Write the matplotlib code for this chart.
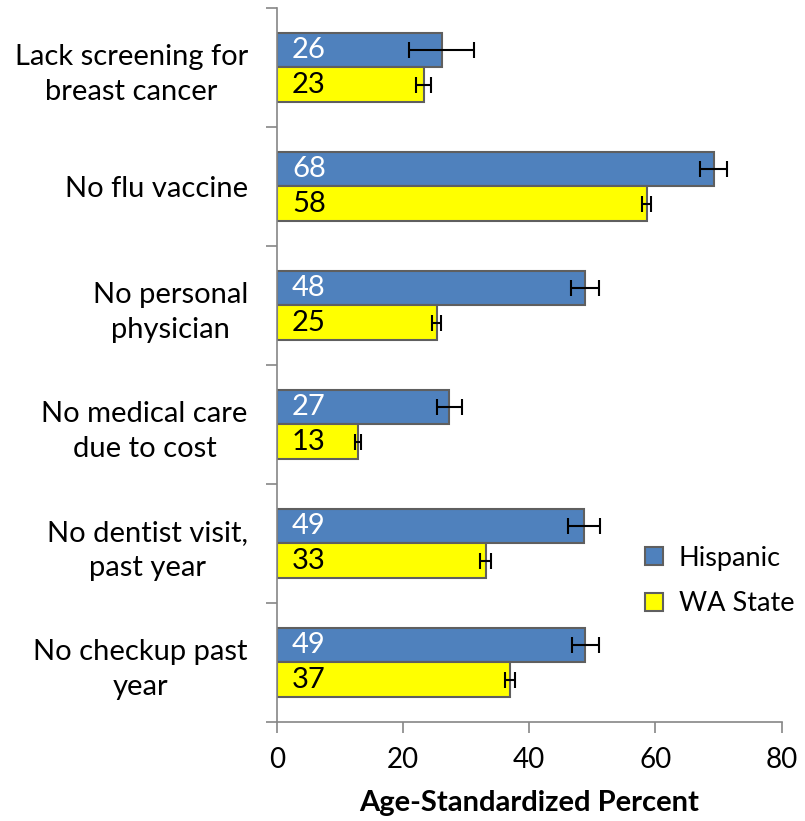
import matplotlib
matplotlib.use("Agg")
import matplotlib.pyplot as plt
import numpy as np

plt.rcParams['font.family'] = ['Lato', 'DejaVu Sans']

categories = ["Lack screening for\nbreast cancer", "No flu vaccine", "No personal\nphysician",
              "No medical care\ndue to cost", "No dentist visit,\npast year", "No checkup past\nyear"]
hispanic = [26.1, 69.2, 48.8, 27.3, 48.7, 48.9]
hispanic_err = [5.2, 2.1, 2.2, 2.0, 2.5, 2.2]
hispanic_lbl = ["26", "68", "48", "27", "49", "49"]
wa = [23.3, 58.6, 25.3, 12.9, 33.1, 36.9]
wa_err = [1.2, 0.75, 0.7, 0.5, 0.9, 0.8]
wa_lbl = ["23", "58", "25", "13", "33", "37"]

blue = "#4F81BD"
yellow = "#FFFF00"
gray = "#868686"
fs = 21

fig = plt.figure(figsize=(8.05, 8.21), dpi=100)
ax = fig.add_axes([0.344, 0.1206, 0.627, 0.8697])

y = np.arange(len(categories))
h = 0.29
ax.barh(y - h/2, hispanic, height=h, color=blue, edgecolor="#5f5f5f", linewidth=1.5,
        xerr=hispanic_err, error_kw=dict(ecolor="black", elinewidth=1.5, capsize=6, capthick=1.5),
        label="Hispanic")
ax.barh(y + h/2, wa, height=h, color=yellow, edgecolor="#5f5f5f", linewidth=1.5,
        xerr=wa_err, error_kw=dict(ecolor="black", elinewidth=1.5, capsize=6, capthick=1.5),
        label="WA State")

for i in range(len(categories)):
    ax.text(2.4, y[i] - h/2, hispanic_lbl[i], color="white", fontsize=fs, va="center", ha="left")
    ax.text(2.4, y[i] + h/2, wa_lbl[i], color="black", fontsize=fs, va="center", ha="left")

ax.set_xlim(0, 80)
ax.set_ylim(5.5, -0.5)
ax.set_xticks([0, 20, 40, 60, 80])
ax.tick_params(axis="x", labelsize=fs - 1, length=8, color=gray, width=1.2, pad=10, direction="out")
ax.set_yticks(np.arange(-0.5, 6, 1))
ax.set_yticklabels([])
ax.set_yticks(y, minor=True)
ax.set_yticklabels(categories, minor=True, fontsize=fs, multialignment="center", linespacing=1.45)
ax.tick_params(axis="y", which="major", length=8, color=gray, width=1.2)
ax.tick_params(axis="y", which="minor", length=0, pad=21)

for s in ["top", "right"]:
    ax.spines[s].set_visible(False)
for s in ["left", "bottom"]:
    ax.spines[s].set_color(gray)
    ax.spines[s].set_linewidth(1.2)

ax.set_xlabel("Age-Standardized Percent", fontsize=fs, fontweight="bold", labelpad=12)

leg = ax.legend(loc="upper left", bbox_to_anchor=(0.708, 0.262), frameon=False, fontsize=19.5,
                handlelength=0.65, handleheight=0.65, handletextpad=0.6, labelspacing=0.75,
                borderaxespad=0)
for p in leg.get_patches():
    p.set_edgecolor("#5f5f5f")

fig.savefig("out.png", dpi=100)
